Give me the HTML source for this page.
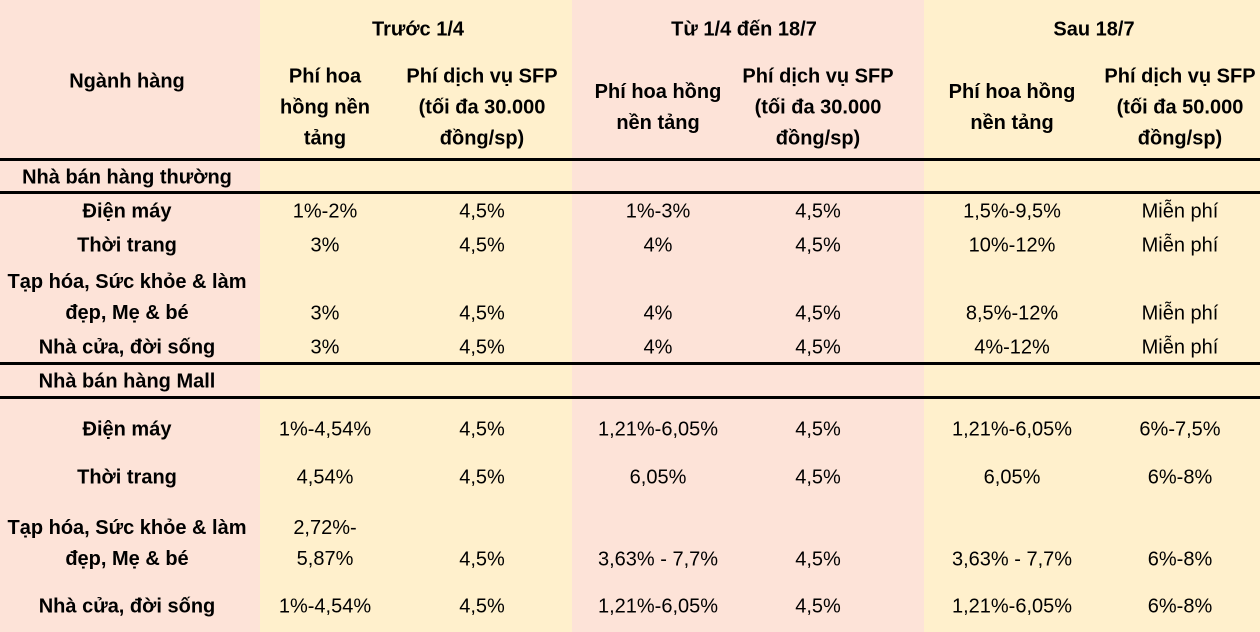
<!DOCTYPE html>
<html><head><meta charset="utf-8"><style>
body{margin:0;width:1260px;height:632px;overflow:hidden;position:relative;font-family:"Liberation Sans",sans-serif;font-size:20px;color:#000}
.bg{position:absolute;top:0;height:632px}
.t{position:absolute;transform:translate(-50%,-50%);white-space:nowrap;text-align:center;line-height:31px}
.b{font-weight:bold}
.l{position:absolute;left:0;width:1260px;height:3px;background:#000}
</style></head><body>
<div class="bg" style="left:0;width:260px;background:#fde3d8"></div>
<div class="bg" style="left:260px;width:312px;background:#fff0cc"></div>
<div class="bg" style="left:572px;width:352px;background:#fde3d8"></div>
<div class="bg" style="left:924px;width:336px;background:#fff0cc"></div>
<div class="l" style="top:158px"></div>
<div class="l" style="top:191px"></div>
<div class="l" style="top:362px"></div>
<div class="l" style="top:396px"></div>
<div id="c"></div>
<script>
const cols=[127,325,482,658,818,1012,1180];
const T=[
[418,30,'Trước 1/4',1],[744,30,'Từ 1/4 đến 18/7',1],[1094,30,'Sau 18/7',1],
[127,82,'Ngành hàng',1],
[325,108,'Phí hoa<br>hồng nền<br>tảng',1],[482,108,'Phí dịch vụ SFP<br>(tối đa 30.000<br>đồng/sp)',1],
[658,108,'Phí hoa hồng<br>nền tảng',1],[818,108,'Phí dịch vụ SFP<br>(tối đa 30.000<br>đồng/sp)',1],
[1012,108,'Phí hoa hồng<br>nền tảng',1],[1180,108,'Phí dịch vụ SFP<br>(tối đa 50.000<br>đồng/sp)',1],
[127,178,'Nhà bán hàng thường',1],[127,382,'Nhà bán hàng Mall',1]];
const rows=[
[212,['Điện máy','1%-2%','4,5%','1%-3%','4,5%','1,5%-9,5%','Miễn phí']],
[246,['Thời trang','3%','4,5%','4%','4,5%','10%-12%','Miễn phí']],
[298,['Tạp hóa, Sức khỏe & làm<br>đẹp, Mẹ & bé','3%','4,5%','4%','4,5%','8,5%-12%','Miễn phí'],1],
[348,['Nhà cửa, đời sống','3%','4,5%','4%','4,5%','4%-12%','Miễn phí']],
[430,['Điện máy','1%-4,54%','4,5%','1,21%-6,05%','4,5%','1,21%-6,05%','6%-7,5%']],
[478,['Thời trang','4,54%','4,5%','6,05%','4,5%','6,05%','6%-8%']],
[544,['Tạp hóa, Sức khỏe & làm<br>đẹp, Mẹ & bé','2,72%-<br>5,87%','4,5%','3,63% - 7,7%','4,5%','3,63% - 7,7%','6%-8%'],2],
[607,['Nhà cửa, đời sống','1%-4,54%','4,5%','1,21%-6,05%','4,5%','1,21%-6,05%','6%-8%']]];
const c=document.getElementById('c');
function add(x,y,h,bold){const d=document.createElement('div');d.className='t'+(bold?' b':'');d.style.left=x+'px';d.style.top=y+'px';d.innerHTML=h;


c.appendChild(d);}
T.forEach(a=>add(a[0],a[1],a[2],a[3]));
rows.forEach(r=>{r[1].forEach((v,i)=>{let y=r[0];
if(r[2]&&i>0&&!(r[2]==2&&i==1))y=r[0]+16;
add(cols[i],y,v,i==0);});});
</script>
</body></html>
